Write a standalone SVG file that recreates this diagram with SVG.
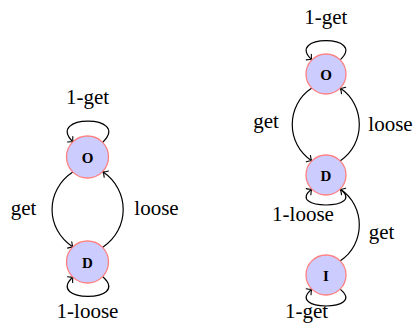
<svg xmlns="http://www.w3.org/2000/svg" width="414" height="325" viewBox="0 0 414 325">
<defs>
<marker id="arr" markerUnits="userSpaceOnUse" markerWidth="12" markerHeight="12" refX="0" refY="0" viewBox="-6 -6 12 12" orient="auto" overflow="visible">
<path d="M-4.2,-3.8 Q-1.6,-0.6 0,0 Q-1.6,0.6 -4.2,3.8" fill="none" stroke="#000" stroke-width="1.1" stroke-linecap="round"/>
</marker>
</defs>
<style>
.node{fill:#ccccff;stroke:#ff8080;stroke-width:1.3}
.nl{font-family:'Liberation Serif',serif;font-weight:bold;font-size:15px;text-anchor:middle;fill:#000}
.lbl{font-family:'Liberation Serif',serif;font-size:21px;text-anchor:middle;fill:#000}
.e{fill:none;stroke:#000;stroke-width:1.2;marker-end:url(#arr)}
</style>
<g id="connectors">
<path class="e" d="M102.8,142.2 C132,114 44,114 73.2,142.2"/>
<path class="e" d="M73.2,171.8 C45,190 45,229 73.2,247.2"/>
<path class="e" d="M102.8,247.2 C130,229 130,190 102.8,171.8"/>
<path class="e" d="M102.8,276.8 C132,303 44,303 73.2,276.8"/>
<path class="e" d="M340.1,59.9 C368,34.3 284,34.3 311.9,59.9"/>
<path class="e" d="M311.9,88.1 C285.7,105 285.7,144 311.9,160.9"/>
<path class="e" d="M340.1,160.9 C365.7,144 365.7,105 340.1,88.1"/>
<path class="e" d="M340.1,189.1 C368,210.3 284,210.3 311.9,189.1"/>
<path class="e" d="M340.1,260.9 C365.7,244 365.7,206 340.1,189.1"/>
<path class="e" d="M340.1,289.1 C368,311.6 284,311.6 311.9,289.1"/>
</g>
<g id="labels">
<text class="lbl" x="87.5" y="104">1-get</text>
<text class="lbl" x="23.5" y="215">get</text>
<text class="lbl" x="156.5" y="215">loose</text>
<text class="lbl" x="87.5" y="318">1-loose</text>
<text class="lbl" x="325.8" y="24">1-get</text>
<text class="lbl" x="266" y="128">get</text>
<text class="lbl" x="390.5" y="131">loose</text>
<text class="lbl" x="303" y="221">1-loose</text>
<text class="lbl" x="381.5" y="239">get</text>
<text class="lbl" x="306.5" y="318">1-get</text>
</g>
<g id="node-O1"><circle class="node" cx="87.5" cy="157" r="21"/><text class="nl" x="87.5" y="162.5">O</text></g>
<g id="node-D1"><circle class="node" cx="87.5" cy="262" r="21"/><text class="nl" x="87.5" y="267.5">D</text></g>
<g id="node-O2"><circle class="node" cx="326" cy="74" r="20"/><text class="nl" x="326" y="79.5">O</text></g>
<g id="node-D2"><circle class="node" cx="326" cy="175" r="20"/><text class="nl" x="326" y="180.5">D</text></g>
<g id="node-I2"><circle class="node" cx="326" cy="275" r="20"/><text class="nl" x="326" y="280.5">I</text></g>
</svg>
